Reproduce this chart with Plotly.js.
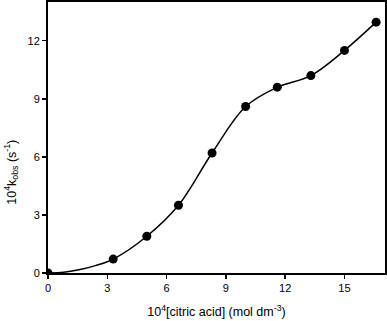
<!DOCTYPE html>
<html>
<head>
<meta charset="utf-8">
<script src="https://cdn.plot.ly/plotly-3.0.1.min.js"></script>
<style>
  html, body { margin: 0; padding: 0; background: #fff; }
  #chart { width: 387px; height: 321px; }
</style>
</head>
<body>
<div id="chart"></div>
<script>
// measured points
var citric = [0, 3.3, 5.0, 6.6, 8.3, 10.0, 11.6, 13.3, 15.0, 16.6];
var kobs = [0, 0.72, 1.9, 3.5, 6.2, 8.6, 9.6, 10.2, 11.5, 12.96];

// fitted curve
var fitX = [0, 0.8, 1.5, 2.4, 3.3, 5.0, 6.6, 8.3, 10.0, 11.6, 13.3, 15.0, 16.6];
var fitY = [0, 0.04, 0.15, 0.38, 0.72, 1.9, 3.5, 6.2, 8.6, 9.6, 10.2, 11.5, 12.96];

var xTicks = [0, 3, 6, 9, 12, 15];
var yTicks = [0, 3, 6, 9, 12];

var font = 'Liberation Sans, Arial, sans-serif';

var fitLine = {
  x: fitX,
  y: fitY,
  mode: 'lines',
  line: { color: '#000', width: 1.5, shape: 'spline', smoothing: 1 },
  hoverinfo: 'skip'
};

var points = {
  x: citric,
  y: kobs,
  mode: 'markers',
  marker: { color: '#000', size: 9 },
  cliponaxis: true
};

var axisStyle = {
  showline: true,
  linecolor: '#000',
  linewidth: 2,
  mirror: true,
  ticks: 'outside',
  ticklen: 4,
  tickwidth: 1.5,
  tickcolor: '#000',
  showgrid: false,
  zeroline: false,
  tickfont: { family: font, size: 11, color: '#000' }
};

var layout = {
  width: 387,
  height: 321,
  margin: { l: 48, r: 2, t: 2, b: 48 },
  showlegend: false,
  plot_bgcolor: '#fff',
  paper_bgcolor: '#fff',
  xaxis: Object.assign({}, axisStyle, {
    range: [0, 17.05],
    tickvals: xTicks,
    title: {
      text: '10<sup>4</sup>[citric acid] (mol dm<sup>-3</sup>)',
      font: { family: font, size: 12.5, color: '#000' },
      standoff: 14
    }
  }),
  yaxis: Object.assign({}, axisStyle, {
    range: [0, 14.0],
    tickvals: yTicks
  }),
  annotations: [{
    text: '10<sup>4</sup>k<sub>obs</sub> (s<sup>-1</sup>)',
    xref: 'paper', yref: 'paper',
    x: 0, y: 0.37,
    xanchor: 'center', yanchor: 'middle',
    xshift: -37,
    textangle: -90,
    showarrow: false,
    font: { family: font, size: 12.5, color: '#000' }
  }]
};

Plotly.newPlot('chart', [fitLine, points], layout, { displayModeBar: false, staticPlot: true });
</script>
</body>
</html>
